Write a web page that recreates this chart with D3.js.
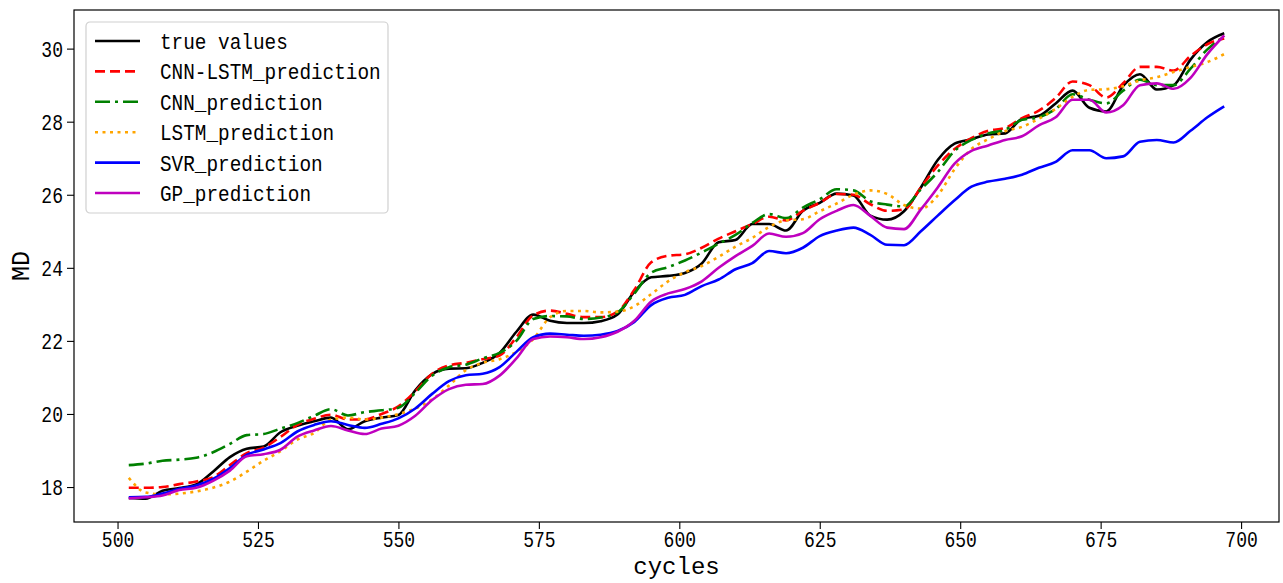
<!DOCTYPE html>
<html>
<head>
<meta charset="utf-8">
<script src="https://cdn.jsdelivr.net/npm/d3@7"></script>
<style>
  body { margin: 0; background: #fff; }
  text { font-family: "Liberation Mono", "DejaVu Sans Mono", monospace; fill: #000; }
</style>
</head>
<body>
<svg id="chart" width="1283" height="583"></svg>
<script>
// cycles read every 3 steps from the picture
var cycles = [502,505,508,511,514,517,520,523,526,529,532,535,538,541,544,547,550,553,556,559,562,565,568,571,574,577,580,583,586,589,592,595,598,601,604,607,610,613,616,619,622,625,628,631,634,637,640,643,646,649,652,655,658,661,664,667,670,673,676,679,682,685,688,691,694,697];

var trueValues = [17.70,17.68,17.90,17.97,18.07,18.42,18.82,19.05,19.11,19.50,19.68,19.80,19.90,19.58,19.80,19.90,19.97,20.65,21.09,21.24,21.25,21.40,21.67,22.25,22.72,22.55,22.49,22.49,22.54,22.72,23.35,23.74,23.78,23.86,24.12,24.70,24.76,25.20,25.20,25.02,25.56,25.78,26.03,25.98,25.43,25.32,25.55,26.20,26.95,27.40,27.52,27.65,27.68,28.08,28.16,28.50,28.85,28.38,28.28,28.98,29.30,28.88,29.00,29.70,30.18,30.42];
var cnnLstm = [17.98,17.98,18.00,18.08,18.15,18.27,18.60,18.93,19.08,19.37,19.70,19.87,19.98,19.85,19.85,20.00,20.21,20.62,21.10,21.33,21.40,21.50,21.60,22.10,22.70,22.83,22.74,22.65,22.65,22.80,23.40,24.15,24.33,24.37,24.55,24.80,25.00,25.20,25.40,25.30,25.56,25.78,26.02,26.00,25.74,25.56,25.60,26.20,26.80,27.25,27.55,27.75,27.83,28.10,28.30,28.65,29.10,29.00,28.66,29.05,29.50,29.50,29.40,29.80,30.12,30.28];
var cnn = [18.60,18.64,18.72,18.75,18.80,18.95,19.18,19.42,19.45,19.60,19.75,19.95,20.13,19.96,20.05,20.10,20.17,20.58,21.05,21.28,21.35,21.52,21.67,22.00,22.60,22.68,22.67,22.60,22.64,22.78,23.30,23.87,24.02,24.20,24.42,24.66,24.90,25.23,25.47,25.36,25.65,25.88,26.15,26.12,25.82,25.73,25.68,26.15,26.62,27.20,27.50,27.68,27.78,28.05,28.12,28.35,28.75,28.60,28.50,28.85,29.15,29.00,29.00,29.45,29.98,30.33];
var lstm = [18.25,17.85,17.80,17.82,17.88,17.98,18.15,18.42,18.72,18.98,19.30,19.48,19.85,19.90,19.85,19.90,20.00,20.15,20.40,20.78,21.20,21.40,21.50,21.70,22.05,22.65,22.82,22.82,22.78,22.80,22.95,23.28,23.63,23.88,24.05,24.30,24.58,24.82,25.12,25.30,25.33,25.55,25.76,26.00,26.12,26.02,25.72,25.62,25.98,26.70,27.25,27.52,27.74,27.86,28.08,28.35,28.68,28.87,28.89,28.97,29.13,29.22,29.36,29.50,29.63,29.85];
var svr = [17.72,17.73,17.82,17.95,18.04,18.22,18.52,18.88,19.03,19.20,19.52,19.70,19.80,19.70,19.62,19.73,19.88,20.15,20.55,20.90,21.06,21.10,21.28,21.70,22.10,22.20,22.17,22.14,22.17,22.27,22.52,22.98,23.18,23.26,23.50,23.68,23.96,24.13,24.46,24.40,24.55,24.87,25.02,25.10,24.90,24.63,24.62,25.00,25.43,25.85,26.22,26.36,26.44,26.55,26.74,26.90,27.22,27.22,27.00,27.05,27.45,27.50,27.43,27.75,28.12,28.42];
var gp = [17.69,17.72,17.77,17.92,17.98,18.17,18.45,18.84,18.90,19.02,19.38,19.55,19.67,19.55,19.45,19.60,19.68,19.95,20.38,20.68,20.80,20.82,21.05,21.52,22.05,22.12,22.10,22.05,22.10,22.25,22.55,23.08,23.30,23.42,23.63,24.00,24.32,24.60,24.94,24.85,24.95,25.33,25.56,25.72,25.42,25.10,25.06,25.60,26.20,26.85,27.20,27.35,27.50,27.60,27.90,28.12,28.60,28.60,28.25,28.45,29.00,29.05,28.90,29.20,29.85,30.36];

var seriesNames = ["true values","CNN-LSTM_prediction","CNN_prediction","LSTM_prediction","SVR_prediction","GP_prediction"];
var seriesValues = [trueValues, cnnLstm, cnn, lstm, svr, gp];
var seriesColors = ["#000000","#ff0000","#008000","#ffa500","#0000ff","#bf00bf"];
var seriesDash = [null, "10,5", "15,5,3,5", "3,4.5", null, null];

var xTicks = [500,525,550,575,600,625,650,675,700];
var yTicks = [18,20,22,24,26,28,30];

var svg = d3.select("#chart"),
    margin = {left: 74, right: 4, top: 10, bottom: 61},
    width = +svg.attr("width") - margin.left - margin.right,
    height = +svg.attr("height") - margin.top - margin.bottom;

var g = svg.append("g").attr("transform", "translate(" + margin.left + "," + margin.top + ")");

// matplotlib style 5% margins
var xPad = (d3.max(cycles) - d3.min(cycles)) * 0.05;
var allVals = d3.merge(seriesValues);
var yPad = (d3.max(allVals) - d3.min(allVals)) * 0.05;

var x = d3.scaleLinear()
    .domain([d3.min(cycles) - xPad, d3.max(cycles) + xPad])
    .range([0, width]);
var y = d3.scaleLinear()
    .domain([d3.min(allVals) - yPad, d3.max(allVals) + yPad])
    .range([height, 0]);

var sx = 0.82; // narrow tick font

var xAxis = g.append("g")
    .attr("transform", "translate(0," + height + ")")
    .call(d3.axisBottom(x).tickValues(xTicks).tickSize(7).tickPadding(2).tickFormat(d3.format("d")));
xAxis.selectAll("text")
    .style("font-size", "22px")
    .attr("transform", "scale(" + sx + ",1)");

var yAxis = g.append("g")
    .call(d3.axisLeft(y).tickValues(yTicks).tickSize(7).tickFormat(d3.format("d")));
yAxis.selectAll("text")
    .style("font-size", "22px")
    .attr("x", -11 / sx)
    .attr("dy", "0.36em")
    .attr("transform", "scale(" + sx + ",1)");

g.selectAll(".domain").remove();
g.selectAll(".tick line").attr("stroke", "#000").attr("stroke-width", 1.1);

// frame
g.append("rect")
    .attr("width", width)
    .attr("height", height)
    .attr("fill", "none")
    .attr("stroke", "#000")
    .attr("stroke-width", 1.2);

var line = d3.line()
    .curve(d3.curveMonotoneX)
    .x(function(d, i) { return x(cycles[i]); })
    .y(function(d) { return y(d); });

var plot = g.append("g");
seriesValues.forEach(function(vals, k) {
  plot.append("path")
      .datum(vals)
      .attr("d", line)
      .attr("fill", "none")
      .attr("stroke", seriesColors[k])
      .attr("stroke-width", 2.6)
      .attr("stroke-dasharray", seriesDash[k])
      .attr("stroke-linejoin", "round");
});

// legend
var legend = g.append("g").attr("transform", "translate(12,12)");
legend.append("rect")
    .attr("width", 302)
    .attr("height", 191)
    .attr("rx", 4)
    .attr("fill", "#fff")
    .attr("fill-opacity", 0.8)
    .attr("stroke", "#d0d0d0")
    .attr("stroke-width", 1.2);

var item = legend.selectAll(".item")
    .data(seriesNames)
    .enter().append("g")
    .attr("class", "item")
    .attr("transform", function(d, i) { return "translate(0," + (19 + i * 30.4) + ")"; });

item.append("line")
    .attr("x1", 9).attr("x2", 54)
    .attr("stroke", function(d, i) { return seriesColors[i]; })
    .attr("stroke-width", 2.6)
    .attr("stroke-dasharray", function(d, i) { return seriesDash[i]; });

item.append("text")
    .attr("transform", "translate(74,0) scale(0.88,1)")
    .attr("dy", "0.36em")
    .style("font-size", "22px")
    .text(function(d) { return d; });

// axis labels
svg.append("text")
    .attr("x", margin.left + width / 2)
    .attr("y", 574)
    .attr("text-anchor", "middle")
    .style("font-size", "24px")
    .text("cycles");

svg.append("text")
    .attr("transform", "translate(29," + (margin.top + height / 2) + ") rotate(-90)")
    .attr("text-anchor", "middle")
    .style("font-size", "25px")
    .text("MD");
</script>
</body>
</html>
